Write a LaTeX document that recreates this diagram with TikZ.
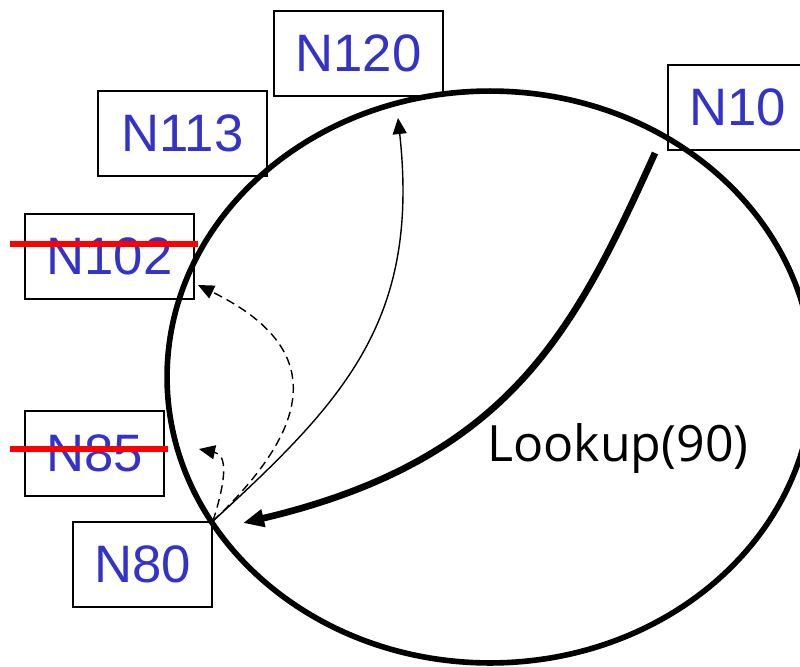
\documentclass[tikz,border=0pt]{standalone}
\usepackage{fontspec}
\setmainfont{Liberation Sans}
\newfontfamily\lookupfont{Open Sans}
\usepackage{tikz}
\usetikzlibrary{calc}
\usetikzlibrary{arrows.meta}
\definecolor{peerblue}{RGB}{51,51,204}
\tikzset{peer/.style={draw, line width=1.1pt, text=peerblue, inner sep=0pt, minimum height=1.7cm, font=\fontsize{30}{36}\selectfont}}
\tikzset{gone/.style={red, line width=3pt}}
\tikzset{hop/.style={line width=0.8pt, -{Triangle[length=0.32cm,width=0.28cm]}}}
\tikzset{dashedhop/.style={hop, dash pattern=on 5pt off 3pt}}

\begin{document}
\begin{tikzpicture}[x=0.02cm, y=-0.02cm]
    \useasboundingbox (0,0) rectangle (800,666);

    % the ring
    \draw[line width=3.2pt] (490,377) ellipse [x radius=6.46cm, y radius=5.72cm];

    \node[peer, minimum width=2.78cm] at (737.5,107.5) (N10) {N10};
    \node[peer, minimum width=3.38cm] at (358.5,53.5)  (N120) {N120};
    \node[peer, minimum width=3.38cm] at (182.5,133.5) (N113) {N113};
    \node[peer, minimum width=3.38cm] at (109.5,256.5) (N102) {N102};
    \node[peer, minimum width=2.78cm] at (94.5,453.5)  (N85) {N85};
    \node[peer, minimum width=2.78cm] at (142.5,564.5) (N80) {N80};
    \node[font=\lookupfont\fontsize{28.5}{34}\selectfont] at (618,448) (lookup) {Lookup(90)};

    % failed peers
    \draw[gone] ($(N102.west)+(-14,-12.5)$) -- ($(N102.east)+(3,-12.5)$);
    \draw[gone] ($(N85.west)+(-14,-4.5)$) -- ($(N85.east)+(3,-4.5)$);

    \coordinate (q) at (655,153);
    \coordinate (hit) at (243,523);
    \coordinate (t120) at (398,118);
    \coordinate (t102) at (198,285);
    \coordinate (t85) at (199,449);

    \draw[line width=3.8pt, -{Triangle[length=0.42cm,width=0.34cm]}] (q) .. controls (575,330) and (510,460) .. (hit);
    \draw[hop] (N80.north east) .. controls (345,400) and (420,320) .. (t120);
    \draw[dashedhop] (N80.north east) .. controls (330,410) and (310,340) .. (t102);
    \draw[dashedhop] (N80.north east) .. controls (226,480) and (228,455) .. (t85);
\end{tikzpicture}
\end{document}
